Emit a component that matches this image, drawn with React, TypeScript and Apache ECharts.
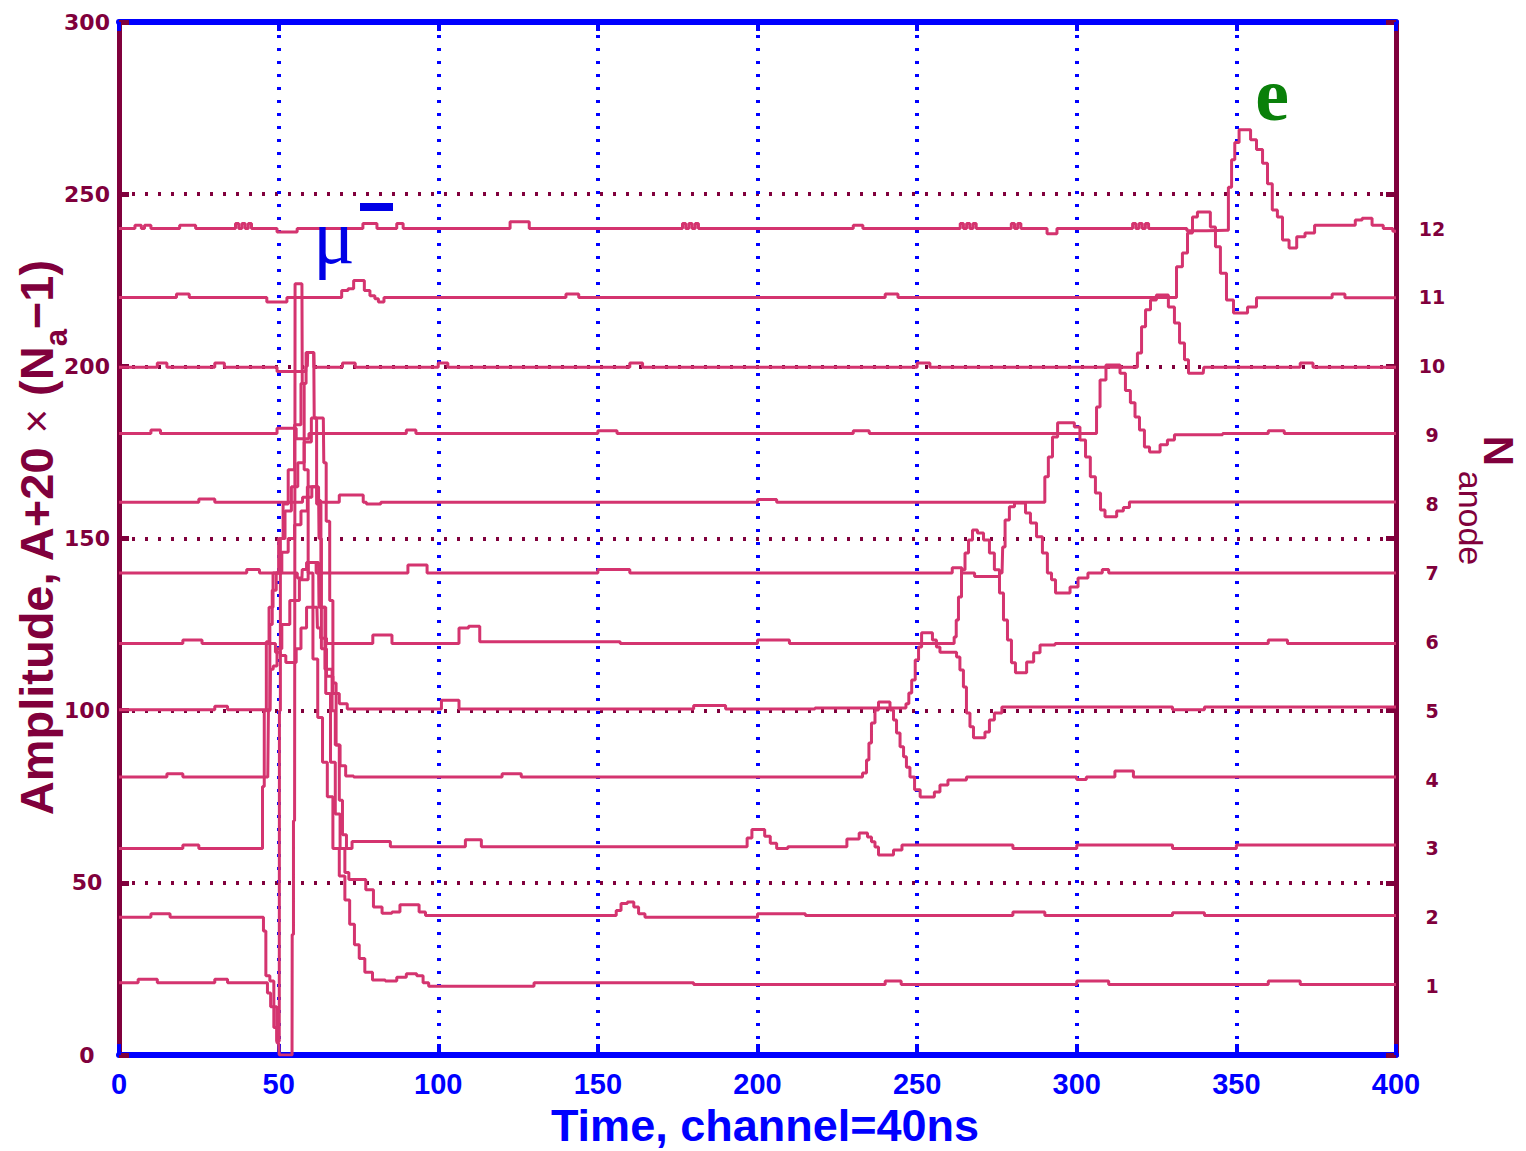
import React, { useEffect, useRef } from "react";
import * as echarts from "echarts";

// ---------- data ----------
const anodeNumbers = ["1", "2", "3", "4", "5", "6", "7", "8", "9", "10", "11", "12"];
const anodeLevels = [20, 40, 60, 80, 100, 120, 140, 160, 180, 200, 220, 240];

const trace01 = [
  [0, 21], [6, 21], [6, 22], [12, 22], [12, 21], [30, 21], [30, 22], [34, 22], [34, 21], [46, 21],
  [47, 18], [48, 14], [49, 8], [50, 3.5], [50.4, 0], [54.2, 0], [54.3, 35], [55, 68], [55.3, 224],
  [57.3, 224], [57.5, 195], [58.5, 170], [60, 140], [61.5, 115], [63, 98], [64.5, 85], [66, 75],
  [68, 60], [70, 52], [71.5, 45], [73, 38], [74.5, 32], [76, 28], [78, 24], [80.8, 21.8], [86, 21.5],
  [88, 22.6], [92, 23.6], [94.5, 23], [96, 21], [98, 20], [130, 20], [130, 21], [180, 21], [180, 20.5],
  [240, 20.5], [240, 21.5], [245, 21.5], [245, 20.5], [300, 20.5], [300, 21.5], [310, 21.5], [310, 20.5],
  [360, 20.5], [360, 21.5], [370, 21.5], [370, 20.5], [400, 20.5],
];
const trace02 = [
  [0, 40], [10, 40], [10, 41], [16, 41], [16, 40], [45, 40], [45.5, 36], [46.5, 23], [48, 21.5], [49, 14],
  [49.8, 4], [50.2, 4], [50.3, 100], [50.8, 150], [52, 160], [54, 170], [56, 183], [58, 195], [59.2, 204],
  [61, 204], [61.3, 185], [62.5, 160], [64, 130], [65.5, 105], [67, 85], [68.5, 70], [70, 60], [71.5, 53],
  [72.5, 51], [76, 51], [78.6, 48], [80.8, 43], [84, 41.2], [87, 41.5], [89, 43.6], [93, 43.6], [95, 41.5],
  [97, 40.5], [155, 40.5], [156.5, 42], [158, 44], [160.5, 44.4], [162, 43], [163.5, 41], [166, 40],
  [200, 40], [200, 41], [215, 41], [215, 40.5], [280, 40.5], [280, 41.5], [290, 41.5], [290, 40.5],
  [330, 40.5], [330, 41.3], [340, 41.3], [340, 40.5], [400, 40.5],
];
const trace03 = [
  [0, 60], [20, 60], [20, 61], [25, 61], [25, 60], [44.7, 60], [45.2, 78], [45.8, 100], [46.5, 120],
  [47.5, 130], [49, 140], [51, 150], [53, 158], [55, 165], [57, 172], [59, 178], [61.5, 185], [64, 185],
  [64.3, 172], [65.5, 155], [66.5, 132], [67.5, 108], [68.5, 90], [69.5, 74], [70.5, 64], [72, 60],
  [74, 62], [84, 62], [86, 60.5], [108, 60.5], [109, 62.5], [113, 62.5], [114, 60.5], [196, 60.5],
  [197.5, 63], [199, 65.5], [201.5, 65.5], [203, 63.5], [205, 61.5], [207, 60], [212, 60.5], [226, 60.5],
  [230, 62.7], [233.7, 64.5], [235.2, 63.3], [236.2, 61.9], [237.4, 60.4], [238.4, 58.1], [241.5, 58.1],
  [243.7, 59.5], [246.8, 61], [280, 61], [280, 60], [300, 60], [300, 61], [330, 61], [330, 60], [350, 60],
  [350, 61], [400, 61],
];
const trace04 = [
  [0, 80.7], [15, 80.7], [15, 81.7], [20, 81.7], [20, 80.7], [46.6, 80.7], [47, 100], [47.5, 125],
  [48.5, 135], [50, 140], [52, 146], [54, 150], [56, 154], [58, 158], [60, 162], [60.8, 165], [62.5, 165],
  [62.8, 150], [64, 130], [65, 112], [66.5, 112], [67, 100], [68.5, 90], [70, 84], [72, 81], [75, 80.7],
  [120, 80.7], [120, 81.7], [126, 81.7], [126, 80.7], [232.1, 80.7], [233.7, 81.9], [234.6, 85.7],
  [235.2, 90.6], [236.2, 96.4], [237.4, 100.2], [238.4, 102.5], [240.9, 102.5], [242.1, 100.2],
  [243.1, 97.3], [244, 93.5], [245.3, 89.5], [246.2, 86.6], [247.1, 83.6], [248.4, 80.7], [250, 77],
  [251.9, 74.9], [254.6, 74.9], [256.2, 76.4], [258.1, 78.4], [261.2, 79.9], [269.7, 80.7], [300, 80.7],
  [300, 80], [303, 80], [303, 80.7], [311.4, 80.7], [312.5, 82.5], [317, 82.5], [318.5, 80.7], [400, 80.7],
];
const trace05 = [
  [0, 100.3], [30, 100.3], [30, 101.3], [34, 101.3], [34, 100.3], [47.3, 100.3], [47.6, 112], [49, 113],
  [50, 118], [52, 125], [55, 132], [58, 138], [60.5, 143], [62.5, 143], [62.8, 130], [64, 118], [66, 110],
  [68, 105], [70, 102], [73, 100.5], [100.5, 100.5], [101.5, 103], [106, 103], [107, 100.5], [180, 100.5],
  [180, 101.5], [190, 101.5], [190, 100.5], [246, 100.8], [247, 102], [247.8, 105.1], [248.8, 108.9],
  [250, 114.7], [250.9, 118.5], [251.9, 122.6], [254, 122.6], [255.6, 120.5], [256.5, 118.5],
  [257.8, 117], [261.9, 117], [262.8, 115.6], [264, 111.8], [265, 106.9], [265.9, 99.3], [267.2, 95.3],
  [268.1, 92.1], [270.6, 92.1], [271.9, 93.8], [273.4, 97.3], [275, 99.3], [278.1, 101.1], [330, 101.1],
  [330, 100.3], [340, 100.3], [340, 101.1], [400, 101.1],
];
const trace06 = [
  [0, 119.5], [20, 119.5], [20, 120.5], [26, 120.5], [26, 119.5], [48.5, 119.5], [49.5, 117],
  [51.5, 116], [53, 114], [55, 114], [56, 118], [58, 124], [59.5, 130], [62, 130], [62.3, 124], [64, 121],
  [66, 119.5], [79, 119.5], [80, 122], [85, 122], [86, 119.5], [106, 119.5], [107, 124], [112, 124.5],
  [114, 120], [200, 119.5], [200, 120.5], [210, 120.5], [210, 119.5], [261.2, 119.5], [262, 121.4],
  [262.5, 126.3], [263.4, 133], [264.4, 140.9], [265.6, 145.8], [266.6, 149.6], [268.1, 152.5],
  [269.7, 151.6], [271.9, 149.6], [273.4, 145.8], [275, 140.9], [276.6, 134.2], [277.5, 126.3],
  [279.1, 120.5], [280, 113.9], [281.6, 111], [283.2, 111], [285.4, 114.1], [287.6, 116.8],
  [289.4, 119.1], [297, 119.5], [360, 119.5], [360, 120.5], [366, 120.5], [366, 119.5], [400, 119.5],
];
const trace07 = [
  [0, 140], [40, 140], [40, 141], [44, 141], [44, 140], [55, 140], [56.7, 138.5], [57.3, 138.5],
  [57.5, 141], [60, 143], [61.5, 143], [62, 140], [90, 140], [91, 142.3], [96, 142.3], [97, 140],
  [150, 140], [150, 141], [160, 141], [160, 140], [261, 140], [261, 141.5], [264, 141.5], [264, 140],
  [268, 140], [268, 139], [275, 139], [276.6, 140], [277, 147.5], [278.1, 155.4], [279.7, 159.2],
  [281.3, 160.3], [283.2, 160.3], [284.7, 157.4], [286.3, 154.5], [288.5, 150.5], [290, 145.8],
  [291.6, 140], [292.6, 138], [294.1, 134.2], [297, 134.2], [298.8, 135.9], [302, 138.5], [305, 140],
  [308, 140], [308, 141], [310, 141], [310, 140], [400, 140],
];
const trace08 = [
  [0, 160.5], [25, 160.5], [25, 161.5], [30, 161.5], [30, 160.5], [57, 160.5], [58, 162], [60, 165],
  [62, 165], [62.3, 161], [64, 160.5], [68.5, 160.5], [69.5, 162.6], [76, 162.6], [77, 160.5], [78, 160],
  [82, 160], [82, 160.5], [200, 160.5], [200, 161.3], [206, 161.3], [206, 160.5], [289.4, 160.5],
  [290.6, 167.9], [291.6, 173.7], [293.2, 179.5], [294.8, 183.6], [298.5, 183.6], [300, 182.4],
  [302, 178.6], [303.5, 173.7], [305, 167.9], [306.7, 163.2], [308.2, 158.3], [309.5, 156.3],
  [311.5, 156.3], [313.5, 158], [315.7, 159], [317.3, 160.6], [400, 160.6],
];
const trace09 = [
  [0, 180.5], [10, 180.5], [10, 181.5], [13, 181.5], [13, 180.5], [49, 180.5], [50, 182], [55, 182],
  [56, 179], [59, 179], [60, 180.5], [90, 180.5], [90, 181.5], [93, 181.5], [93, 180.5], [150, 180.5],
  [150, 181.3], [156, 181.3], [156, 180.5], [230, 180.5], [230, 181.3], [235, 181.3], [235, 180.5],
  [305.7, 180.5], [306.7, 188.2], [307.9, 196], [310.4, 200.4], [312.6, 200.4], [314.5, 198], [316, 193],
  [317.6, 189.4], [318.9, 185.3], [320.4, 181.5], [322, 176.6], [323.6, 175.1], [325.2, 175.1],
  [327, 177.2], [329.8, 178.6], [331.4, 180.1], [360, 180.5], [360, 181.3], [365, 181.3], [365, 180.5],
  [400, 180.5],
];
const trace10 = [
  [0, 199.7], [12, 199.7], [12, 201], [15, 201], [15, 199.7], [30, 199.7], [30, 201], [33, 201],
  [33, 199.7], [49, 199.7], [50, 198.5], [58, 198.5], [59, 200], [59.2, 204], [61, 204], [61.2, 199.7],
  [70, 199.7], [70, 201], [74, 201], [74, 199.7], [100, 199.7], [100, 201], [103, 201], [103, 199.7],
  [160, 199.7], [160, 201], [164, 201], [164, 199.7], [250, 199.7], [250, 201], [254, 201],
  [254, 199.7], [318.2, 199.7], [319.8, 203.9], [320.8, 211.5], [322.3, 216.4], [323.9, 219.3],
  [326, 220.7], [327.6, 220.7], [329.8, 217.2], [331.4, 212.6], [333, 206.8], [334.5, 201.9],
  [335.5, 198], [339.6, 198], [340, 199.7], [370, 199.7], [370, 201], [374, 201], [374, 199.7],
  [400, 199.7],
];
const trace11 = [
  [0, 220], [18, 220], [18, 221], [22, 221], [22, 220], [46.3, 220], [46.3, 218.7], [52.6, 218.7],
  [52.6, 220], [69, 220], [70.5, 222], [73, 222.5], [74, 224.9], [76, 224.9], [77.7, 222], [79.5, 220.5],
  [80.8, 219.6], [81.7, 218.7], [83, 218.7], [83, 220], [140, 220], [140, 221], [144, 221], [144, 220],
  [240, 220], [240, 221], [244, 221], [244, 220], [330.2, 220], [332.3, 228.9], [333.9, 232.9],
  [335.5, 238.7], [337, 243.4], [338.6, 244.8], [341, 244.8], [342.7, 240.5], [344.2, 234.7],
  [345.8, 227], [348, 219.3], [350.2, 215.5], [352.7, 215.5], [354.3, 217.2], [358.3, 219.9],
  [380, 219.9], [380, 221], [384, 221], [384, 219.9], [400, 219.9],
];
const trace12 = [
  [0, 240], [5, 240], [5, 241], [7, 241], [7, 240], [9, 241], [11, 240], [19, 240], [19, 241], [24, 241],
  [24, 240], [36, 240], [37, 241.5], [38, 240], [39, 241.5], [40, 240], [41, 241.5], [42, 240], [49.5, 240],
  [49.5, 239], [55.8, 239], [55.8, 240], [76.4, 240], [76.4, 241.5], [80.8, 241.5], [80.8, 240],
  [87, 240], [87, 241.5], [89, 241.5], [89, 240], [122, 240], [123, 242], [128, 242], [129, 240],
  [176, 240], [177, 241.5], [178, 240], [179, 241.5], [180, 240], [181, 241.5], [182, 240], [230, 240],
  [230, 241], [233, 241], [233, 240], [263, 240], [264, 241.5], [265, 240], [266, 241.5], [267, 240],
  [268, 241.5], [269, 240], [279, 240], [280, 241.5], [281, 240], [282, 241.5], [283, 240], [290.7, 240],
  [290.7, 238.5], [293.8, 238.5], [293.8, 240], [317, 240], [318, 241.5], [319, 240], [320, 241.5],
  [321, 240], [322, 241.5], [323, 240], [334.5, 240], [334.5, 239.4], [347, 239.5], [348, 252],
  [349, 260], [350, 265], [351.7, 268.7], [353.7, 268.7], [355.2, 265.8], [357.4, 263], [359, 259],
  [360.5, 253], [362, 245.4], [363.7, 243.4], [365.2, 236.7], [367.8, 234.4], [370, 237.6],
  [373, 238.7], [376, 241], [386.7, 241], [387.8, 242.5], [391, 243], [394, 241], [398, 240],
  [400, 239.2],
];

const traces = [trace01, trace02, trace03, trace04, trace05, trace06, trace07, trace08, trace09, trace10, trace11, trace12];

// ---------- styles ----------
const MAROON = "#80003c";
const BLUE = "#0000ff";
const TRACE = "#d4346f";
const GREEN = "#0a800a";

export default function App() {
  const ref = useRef<HTMLDivElement>(null);

  useEffect(() => {
    if (!ref.current) return;
    const chart = echarts.init(ref.current, undefined, { renderer: "svg" });

    const option: any = {
      animation: false,
      backgroundColor: "#ffffff",
      grid: { left: 119, right: 130, top: 22, bottom: 96, containLabel: false },
      xAxis: [
        {
          type: "value",
          position: "bottom",
          min: 0,
          max: 400,
          interval: 50,
          axisLine: { show: true, onZero: false, lineStyle: { color: BLUE, width: 6 } },
          axisTick: { show: true, inside: true, length: 11, lineStyle: { color: BLUE, width: 4 } },
          axisLabel: {
            color: BLUE,
            fontFamily: "'Liberation Sans Narrow', 'Arial Narrow', 'Liberation Sans', Arial, sans-serif",
            fontWeight: "bold",
            fontSize: 29,
            margin: 14,
          },
          splitLine: { show: true, lineStyle: { color: BLUE, width: 4, type: [3, 10] } },
        },
        {
          type: "value",
          position: "top",
          min: 0,
          max: 400,
          interval: 50,
          axisLine: { show: true, onZero: false, lineStyle: { color: BLUE, width: 6 } },
          axisTick: { show: true, inside: true, length: 9, lineStyle: { color: BLUE, width: 4 } },
          axisLabel: { show: false },
          splitLine: { show: false },
        },
      ],
      yAxis: [
        {
          type: "value",
          position: "left",
          min: 0,
          max: 300,
          interval: 50,
          axisLine: { show: true, onZero: false, lineStyle: { color: MAROON, width: 5 } },
          axisTick: { show: true, inside: true, length: 10, lineStyle: { color: MAROON, width: 5 } },
          axisLabel: {
            color: MAROON,
            fontFamily: "'DejaVu Sans', Verdana, sans-serif",
            fontWeight: "bold",
            fontSize: 22,
            align: "center",
            margin: 32,
          },
          splitLine: { show: true, lineStyle: { color: MAROON, width: 4, type: [3, 10] } },
        },
        {
          type: "value",
          position: "right",
          min: 0,
          max: 300,
          interval: 50,
          axisLine: { show: true, onZero: false, lineStyle: { color: MAROON, width: 5 } },
          axisTick: { show: true, inside: true, length: 10, lineStyle: { color: MAROON, width: 5 } },
          axisLabel: { show: false },
          splitLine: { show: false },
        },
        {
          type: "value",
          position: "right",
          min: 0,
          max: 300,
          interval: 20,
          axisLine: { show: false },
          axisTick: { show: false },
          splitLine: { show: false },
          axisLabel: {
            color: MAROON,
            fontFamily: "'DejaVu Sans', Verdana, sans-serif",
            fontWeight: "bold",
            fontSize: 19,
            align: "center",
            margin: 36,
            formatter: (v: number) => {
              const i = anodeLevels.indexOf(v);
              return i >= 0 ? anodeNumbers[i] : "";
            },
          },
        },
      ],
      series: traces.map((d, i) => ({
        type: "line",
        name: "Anode " + anodeNumbers[i],
        data: d,
        xAxisIndex: 0,
        yAxisIndex: 0,
        step: "middle",
        showSymbol: false,
        symbol: "none",
        silent: true,
        z: 3,
        lineStyle: { color: TRACE, width: 3 },
        itemStyle: { color: TRACE },
      })),
      graphic: [
        {
          type: "text",
          x: 36,
          y: 538,
          rotation: Math.PI / 2,
          z: 10,
          style: {
            text: "{t|Amplitude, A+20 }{x|×}{t| (N}{s|a}{t|−1)}",
            align: "center",
            verticalAlign: "middle",
            textAlign: "center",
            textVerticalAlign: "middle",
            rich: {
              t: {
                fontSize: 47,
                fontWeight: "bold",
                fontFamily: "'Liberation Sans', Arial, sans-serif",
                fill: MAROON,
                color: MAROON,
                lineHeight: 72,
              },
              x: {
                fontSize: 42,
                fontWeight: "normal",
                fontFamily: "'Liberation Sans', Arial, sans-serif",
                fill: MAROON,
                color: MAROON,
                lineHeight: 72,
              },
              s: {
                fontSize: 31,
                fontWeight: "bold",
                fontFamily: "'Liberation Sans', Arial, sans-serif",
                fill: MAROON,
                color: MAROON,
                lineHeight: 31,
                verticalAlign: "bottom",
              },
            },
          },
        },
        {
          type: "text",
          x: 765,
          y: 1125,
          z: 10,
          style: {
            text: "Time, channel=40ns",
            fontSize: 45,
            fontWeight: "bold",
            fontFamily: "'Liberation Sans', Arial, sans-serif",
            fill: BLUE,
            align: "center",
            verticalAlign: "middle",
            textAlign: "center",
            textVerticalAlign: "middle",
          },
        },
        {
          type: "text",
          x: 1498,
          y: 451,
          rotation: -Math.PI / 2,
          z: 10,
          style: {
            text: "N",
            fontSize: 42,
            fontWeight: "bold",
            fontFamily: "'Liberation Sans', Arial, sans-serif",
            fill: MAROON,
            align: "center",
            verticalAlign: "middle",
            textAlign: "center",
            textVerticalAlign: "middle",
          },
        },
        {
          type: "text",
          x: 1471,
          y: 518,
          rotation: -Math.PI / 2,
          z: 10,
          style: {
            text: "anode",
            fontSize: 34,
            fontWeight: "normal",
            fontFamily: "'Liberation Sans', Arial, sans-serif",
            fill: MAROON,
            align: "center",
            verticalAlign: "middle",
            textAlign: "center",
            textVerticalAlign: "middle",
          },
        },
        {
          type: "text",
          x: 334,
          y: 236,
          z: 10,
          style: {
            text: "μ",
            fontSize: 78,
            fontFamily: "'Liberation Serif', 'Times New Roman', serif",
            fill: "#0000e6",
            align: "center",
            verticalAlign: "middle",
            textAlign: "center",
            textVerticalAlign: "middle",
          },
        },
        {
          type: "rect",
          z: 10,
          shape: { x: 360, y: 203, width: 33, height: 8 },
          style: { fill: "#0000e6" },
        },
        {
          type: "text",
          x: 1272,
          y: 94,
          z: 10,
          style: {
            text: "e",
            fontSize: 76,
            fontWeight: "bold",
            fontFamily: "'Liberation Serif', 'Times New Roman', serif",
            fill: GREEN,
            align: "center",
            verticalAlign: "middle",
            textAlign: "center",
            textVerticalAlign: "middle",
          },
        },
      ],
    };

    chart.setOption(option);
    return () => {
      chart.dispose();
    };
  }, []);

  return (
    <div
      ref={ref}
      style={{ position: "absolute", left: 0, top: 0, width: 1526, height: 1151, background: "#fff" }}
    />
  );
}
